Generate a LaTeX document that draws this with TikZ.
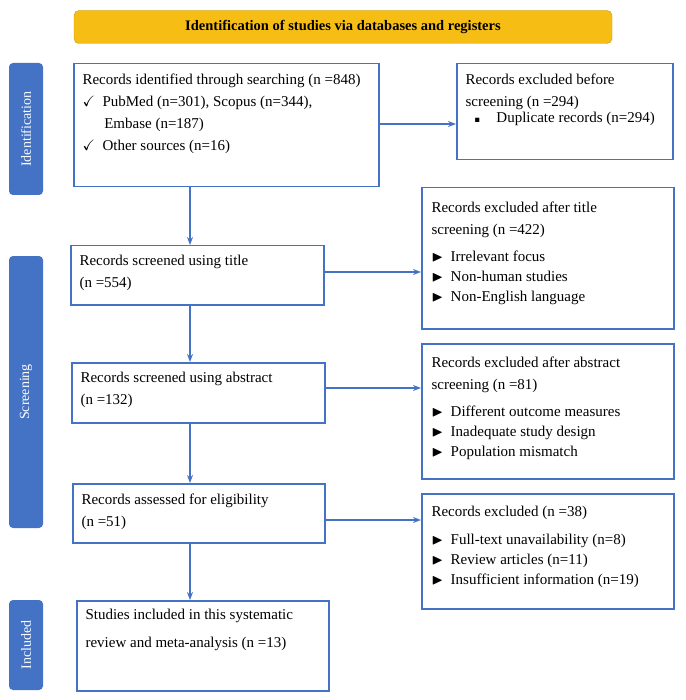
\documentclass[tikz,border=0pt]{standalone}
\usepackage{fontspec}
\setmainfont{Liberation Serif}
\usepackage{amssymb}
\usetikzlibrary{positioning,arrows.meta}
\definecolor{prismablue}{RGB}{68,114,196}
\definecolor{prismagold}{RGB}{246,190,20}
\tikzset{
  box/.style={draw=prismablue, line width=1.5pt, anchor=north west, inner sep=0pt},
  stage/.style={fill=prismablue, rounded corners=4pt, text=white, minimum height=34pt, font=\fontsize{14}{16}\selectfont},
  flow/.style={-{Stealth[length=8pt,width=6pt]}, prismablue, line width=1.5pt},
  txt/.style={anchor=north west, align=left, font=\fontsize{15}{22}\selectfont}
}
\begin{document}
\begin{tikzpicture}[x=1pt,y=-1pt]
				\useasboundingbox (0,0) rectangle (685,700);
				% header
				\node[fill=prismagold, draw=prismagold!80!black, rounded corners=5pt, minimum width=538pt, minimum height=33pt, font=\bfseries\fontsize{14.5}{16}\selectfont] (head) at (343,27) {Identification of studies via databases and registers};
				
				% stage bars
				\node[stage, minimum width=132pt, rotate=90] (ident) at (26,129) {Identification};
				\node[stage, minimum width=272pt, rotate=90] (screen) at (26,392) {Screening};
				\node[stage, minimum width=90pt, rotate=90] (incl) at (26,645) {Included};
				
				% main boxes
				\node[box, minimum width=305pt, minimum height=123pt] (rec) at (73,63) {};
				\node[txt] at (79,70) {Records identified through searching (n =848)\\
					\checkmark\enspace PubMed (n=301), Scopus (n=344),\\
					\hspace{1.45em}Embase (n=187)\\
					\checkmark\enspace Other sources (n=16)};
				\node[box, minimum width=253pt, minimum height=59pt] (title) at (70,245) {};
				\node[txt] at (76,252) {Records screened using title\\(n =554)};
				\node[box, minimum width=253pt, minimum height=60pt] (abs) at (71,362) {};
				\node[txt] at (77,369) {Records screened using abstract\\(n =132)};
				\node[box, minimum width=252pt, minimum height=59pt] (elig) at (72,483) {};
				\node[txt] at (78,490) {Records assessed for eligibility\\(n =51)};
				\node[box, minimum width=252pt, minimum height=90pt] (incd) at (76,600) {};
				\node[txt, font=\fontsize{15}{28}\selectfont] at (82,606) {Studies included in this systematic\\review and meta-analysis (n =13)};
				
				% exclusion boxes
				\node[box, minimum width=216pt, minimum height=96pt] (dup) at (456,63) {};
				\node[txt] at (462,70) {Records excluded before\\screening (n =294)\\[-6pt]
					\hspace{0.6em}\tiny$\blacksquare$\normalsize\fontsize{15}{22}\selectfont\hspace{1.1em}Duplicate records (n=294)};
				\node[box, minimum width=252pt, minimum height=141pt] (extitle) at (421,187) {};
				\node[txt] at (428,198) {Records excluded after title\\screening (n =422)\\[5pt]
					$\blacktriangleright$\enspace Irrelevant focus\\[-2pt]
					$\blacktriangleright$\enspace Non-human studies\\[-2pt]
					$\blacktriangleright$\enspace Non-English language};
				\node[box, minimum width=252pt, minimum height=135pt] (exabs) at (421,343) {};
				\node[txt] at (428,353) {Records excluded after abstract\\screening (n =81)\\[5pt]
					$\blacktriangleright$\enspace Different outcome measures\\[-2pt]
					$\blacktriangleright$\enspace Inadequate study design\\[-2pt]
					$\blacktriangleright$\enspace Population mismatch};
				\node[box, minimum width=252pt, minimum height=115pt] (exfull) at (421,493) {};
				\node[txt] at (428,503) {Records excluded (n =38)\\[6pt]
					$\blacktriangleright$\enspace Full-text unavailability (n=8)\\[-2pt]
					$\blacktriangleright$\enspace Review articles (n=11)\\[-2pt]
					$\blacktriangleright$\enspace Insufficient information (n=19)};
				
				% vertical flow
				\coordinate (c1) at (190,186);
				\draw[flow] (c1) -- (c1 |- title.north);
				\draw[flow] (c1 |- title.south) -- (c1 |- abs.north);
				\draw[flow] (c1 |- abs.south) -- (c1 |- elig.north);
				\draw[flow] (c1 |- elig.south) -- (c1 |- incd.north);
				
				% exclusion arrows
				\draw[flow] (rec.east |- 0,124) -- (dup.west |- 0,124);
				\draw[flow] (title.east |- 0,272) -- (extitle.west |- 0,272);
				\draw[flow] (abs.east |- 0,388) -- (exabs.west |- 0,388);
				\draw[flow] (elig.east |- 0,520) -- (exfull.west |- 0,520);
			\end{tikzpicture}
\end{document}
